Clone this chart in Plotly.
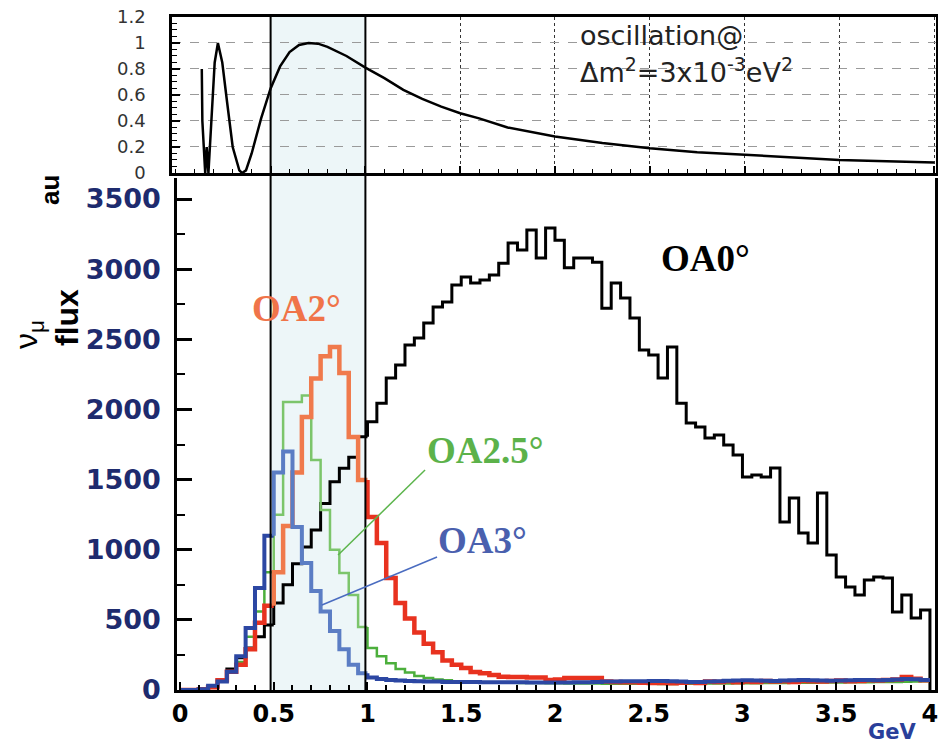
import numpy as np
import plotly.graph_objects as go

# ---------------- data ----------------
bin_width = 0.05
n_bins = 80
energy_edges = np.round(np.arange(n_bins + 1) * bin_width, 3)

flux_oa0 = [0, 0, 5, 20, 70, 150, 230, 300, 380, 463,
            620, 750, 900, 1020, 1140, 1330, 1485, 1580, 1660, 1805,
            1912, 2045, 2224, 2316, 2459, 2509, 2616, 2730, 2766, 2887,
            2944, 2901, 2922, 2958, 3043, 3186, 3136, 3279, 3079, 3293,
            3207, 3010, 3079, 3079, 3050, 2722, 2901, 2794, 2652, 2423,
            2388, 2224, 2445, 2045, 1903, 1875, 1796, 1817, 1746, 1675,
            1518, 1532, 1518, 1582, 1197, 1368, 1119, 1048, 1404, 962,
            805, 734, 677, 784, 805, 798, 556, 677, 513, 570]

flux_oa2 = [0, 0, 5, 20, 70, 130, 180, 290, 480, 600,
            840, 1170, 1550, 1946, 2220, 2380, 2445, 2260, 1803, 1497,
            1233, 1048, 798, 620, 510, 410, 330, 270, 210, 180,
            157, 128, 120, 107, 95, 93, 93, 90, 90, 71,
            75, 86, 86, 86, 86, 60, 57, 55, 55, 52,
            50, 50, 48, 52, 55, 50, 60, 58, 62, 55,
            60, 58, 65, 60, 62, 58, 65, 62, 60, 65,
            68, 62, 65, 70, 68, 72, 75, 93, 80, 70]

flux_oa25 = [0, 0, 5, 25, 70, 130, 200, 380, 560, 840,
             1250, 2053, 2053, 2100, 1640, 1283, 1000, 834, 677, 450,
             300, 240, 190, 150, 125, 100, 85, 75, 70, 62,
             58, 55, 55, 53, 52, 52, 50, 50, 50, 48,
             48, 47, 47, 46, 46, 45, 45, 45, 44, 44,
             44, 43, 43, 45, 45, 46, 46, 47, 47, 48,
             48, 49, 50, 50, 50, 51, 52, 52, 53, 54,
             54, 55, 55, 56, 57, 58, 58, 59, 60, 62]

flux_oa3 = [0, 0, 5, 30, 60, 130, 240, 442, 727, 1100,
            1550, 1700, 1162, 905, 705, 560, 420, 290, 180, 120,
            90, 78, 72, 68, 65, 62, 60, 60, 58, 58,
            57, 57, 56, 56, 55, 55, 55, 54, 54, 54,
            53, 53, 55, 56, 58, 60, 60, 62, 62, 63,
            65, 64, 62, 60, 58, 57, 60, 63, 66, 68,
            70, 68, 66, 65, 68, 70, 72, 70, 68, 66,
            67, 69, 71, 72, 70, 72, 75, 78, 76, 72]

osc_energy = [0.137, 0.140, 0.155, 0.163, 0.172, 0.190, 0.205, 0.222, 0.245, 0.27,
              0.30, 0.335, 0.35, 0.37, 0.40, 0.45, 0.50, 0.55, 0.60, 0.65,
              0.70, 0.75, 0.80, 0.90, 1.00, 1.10, 1.20, 1.30, 1.40, 1.50,
              1.60, 1.75, 2.00, 2.25, 2.50, 2.75, 3.00, 3.25, 3.50, 3.75, 4.00]
osc_prob = [0.80, 0.40, 0.0, 0.20, 0.0, 0.45, 0.85, 1.0, 0.85, 0.55,
            0.20, 0.02, 0.0, 0.02, 0.15, 0.42, 0.65, 0.82, 0.93, 0.985,
            1.0, 0.995, 0.97, 0.90, 0.81, 0.73, 0.64, 0.57, 0.51, 0.46,
            0.42, 0.35, 0.28, 0.23, 0.19, 0.16, 0.14, 0.12, 0.10, 0.09, 0.08]

main_yticks = [0, 500, 1000, 1500, 2000, 2500, 3000, 3500]
main_xticks = [0, 0.5, 1, 1.5, 2, 2.5, 3, 3.5, 4]
main_xlabels = ["0", "0.5", "1", "1.5", "2", "2.5", "3", "3.5", "4"]
top_yticks = [0, 0.2, 0.4, 0.6, 0.8, 1.0, 1.2]
top_ylabels = ["0", "0.2", "0.4", "0.6", "0.8", "1", "1.2"]

band_lo, band_hi = 0.5, 1.0

# ---------------- layout constants ----------------
TOP_X_DOMAIN = [0.1834, 0.9979]
TOP_Y_DOMAIN = [0.7678, 0.9772]
MAIN_X_DOMAIN = [0.1887, 0.9968]
MAIN_Y_DOMAIN = [0.0738, 0.7611]

NAVY = "#1e2b6e"

fig = go.Figure()

band_lo_bin = int(round(band_lo / bin_width))
band_hi_bin = int(round(band_hi / bin_width))


def segment(values, lo, hi, drop_end=False):
    xs, ys = [], []
    if lo > 0:
        xs.append(energy_edges[lo]); ys.append(values[lo - 1])
    for k in range(lo, hi):
        xs.append(energy_edges[k]); ys.append(values[k])
    xs.append(energy_edges[hi]); ys.append(values[hi - 1])
    if drop_end:
        xs.append(energy_edges[hi]); ys.append(0)
    return xs, ys


series = [
    (flux_oa0, "#000000", "#000000", 3.0, True),
    (flux_oa25, "#4caf3c", "#7cc56b", 2.5, False),
    (flux_oa2, "#e8321f", "#f07a4c", 4.5, False),
    (flux_oa3, "#2c47a3", "#5b7dc4", 4.0, False),
]

for vals, col_out, col_in, w, drop in series:
    parts = [(0, band_lo_bin, col_out, False),
             (band_lo_bin, band_hi_bin, col_in, False),
             (band_hi_bin, n_bins, col_out, drop)]
    for lo, hi, col, d in parts:
        xs, ys = segment(vals, lo, hi, d)
        fig.add_trace(go.Scatter(x=xs, y=ys, mode="lines", line_shape="hv",
                                 line=dict(color=col, width=w),
                                 xaxis="x2", yaxis="y2", hoverinfo="skip"))

fig.add_trace(go.Scatter(x=osc_energy, y=osc_prob, mode="lines",
                         line=dict(color="#000000", width=2.5),
                         xaxis="x", yaxis="y", hoverinfo="skip"))

shapes = [
    dict(type="rect", xref="x", yref="paper", x0=band_lo, x1=band_hi,
         y0=MAIN_Y_DOMAIN[0], y1=TOP_Y_DOMAIN[1], fillcolor="#edf6f8",
         line=dict(width=0), layer="below"),
    dict(type="line", xref="x", yref="paper", x0=band_lo, x1=band_lo,
         y0=MAIN_Y_DOMAIN[0], y1=TOP_Y_DOMAIN[1], line=dict(color="black", width=2),
         layer="above"),
    dict(type="line", xref="x", yref="paper", x0=band_hi, x1=band_hi,
         y0=MAIN_Y_DOMAIN[0], y1=TOP_Y_DOMAIN[1], line=dict(color="black", width=2),
         layer="above"),
    dict(type="line", xref="x2", yref="y2", x0=1.307, y0=1568, x1=0.843, y1=962,
         line=dict(color="#5cb54c", width=1.5), layer="above"),
    dict(type="line", xref="x2", yref="y2", x0=1.371, y0=948, x1=0.757, y1=606,
         line=dict(color="#4a6cc0", width=1.5), layer="above"),
]

serif = "Liberation Serif"
annotations = [
    dict(text="OA0°", x=2.805, y=3079, xref="x2", yref="y2", showarrow=False,
         font=dict(family=serif, size=37, color="#000000", weight=700)),
    dict(text="OA2°", x=0.624, y=2723, xref="x2", yref="y2", showarrow=False,
         font=dict(family=serif, size=37, color="#f07449", weight=700)),
    dict(text="OA2.5°", x=1.632, y=1704, xref="x2", yref="y2", showarrow=False,
         font=dict(family=serif, size=37, color="#5cb24a", weight=700)),
    dict(text="OA3°", x=1.616, y=1069, xref="x2", yref="y2", showarrow=False,
         font=dict(family=serif, size=37, color="#4a60ae", weight=700)),
    dict(text="oscillation@", x=2.12, y=1.06, xref="x", yref="y", xanchor="left",
         showarrow=False, font=dict(family="DejaVu Sans", size=27, color="#222222")),
    dict(text="Δm<sup>2</sup>=3x10<sup>-3</sup>eV<sup>2</sup>", x=2.12, y=0.79,
         xref="x", yref="y", xanchor="left", showarrow=False,
         font=dict(family="DejaVu Sans", size=27, color="#222222")),
    dict(text="au", x=50 / 938, y=1 - 190 / 745, xref="paper", yref="paper",
         xanchor="center", yanchor="middle", textangle=-90, showarrow=False,
         font=dict(family="Liberation Sans", size=26, color="#000000", weight=700)),
    dict(text="flux", x=67 / 938, y=1 - 318 / 745, xref="paper", yref="paper",
         xanchor="center", yanchor="middle", textangle=-90, showarrow=False,
         font=dict(family="Liberation Sans", size=32, color="#000000", weight=700)),
    dict(text="ν<sub>μ</sub>", x=28 / 938, y=1 - 335 / 745, xref="paper", yref="paper",
         xanchor="center", yanchor="middle", textangle=-90, showarrow=False,
         font=dict(family="Liberation Sans", size=32, color="#000000")),
    dict(text="GeV", x=917 / 938, y=0.0, xref="paper", yref="paper",
         xanchor="right", yanchor="bottom", showarrow=False, borderpad=0,
         font=dict(family="DejaVu Sans", size=21, color="#2a3f9a", weight=700)),
]

fig.update_layout(
    width=938, height=745,
    margin=dict(l=0, r=0, t=0, b=0, autoexpand=False),
    paper_bgcolor="white", plot_bgcolor="rgba(0,0,0,0)",
    showlegend=False,
    shapes=shapes, annotations=annotations,
    xaxis=dict(domain=TOP_X_DOMAIN, range=[-0.02, 4.01], anchor="y", automargin=False,
               tickvals=main_xticks[1:], showticklabels=False,
               ticks="inside", ticklen=7, tickwidth=1.5, tickcolor="black",
               minor=dict(dtick=0.1, tick0=0, ticks="inside", ticklen=4,
                          tickwidth=1, tickcolor="black", showgrid=False),
               showgrid=True, gridcolor="#333333", griddash="dot", gridwidth=1,
               showline=True, linecolor="black", linewidth=2.5, mirror=True,
               zeroline=False),
    yaxis=dict(domain=TOP_Y_DOMAIN, range=[0, 1.2], anchor="x", automargin=False,
               tickvals=top_yticks, ticktext=top_ylabels,
               ticks="inside", ticklen=8, tickwidth=1.5, tickcolor="black",
               minor=dict(dtick=0.05, tick0=0, ticks="inside", ticklen=5,
                          tickwidth=1, tickcolor="black", showgrid=False),
               showgrid=True, gridcolor="#9a9a9a", griddash="dash", gridwidth=1,
               showline=True, linecolor="black", linewidth=2.5, mirror=True,
               zeroline=False, ticklabelstandoff=20, ticklabeloverflow="allow",
               tickfont=dict(family="DejaVu Sans", size=18, color="#333333")),
    xaxis2=dict(domain=MAIN_X_DOMAIN, range=[-0.016, 4.027], anchor="y2", automargin=False,
                tickvals=main_xticks, ticktext=main_xlabels,
                ticks="inside", ticklen=8, tickwidth=2, tickcolor="black",
                minor=dict(dtick=0.1, tick0=0, ticks="inside", ticklen=5,
                           tickwidth=1.5, tickcolor="black", showgrid=False),
                showgrid=False, showline=True, linecolor="black", linewidth=2.5,
                zeroline=False, ticklabelstandoff=0, ticklabeloverflow="allow",
                tickfont=dict(family="DejaVu Sans", size=24, color="#000000", weight=700)),
    yaxis2=dict(domain=MAIN_Y_DOMAIN, range=[0, 3650], anchor="x2", automargin=False,
                tickvals=main_yticks, ticktext=[str(v) for v in main_yticks],
                ticks="inside", ticklen=15, tickwidth=2.5, tickcolor="black",
                minor=dict(dtick=250, tick0=0, ticks="inside", ticklen=8,
                           tickwidth=2, tickcolor="black", showgrid=False),
                showgrid=False, showline=True, linecolor="black", linewidth=2.5,
                mirror=True, zeroline=False, ticklabelstandoff=8, ticklabeloverflow="allow",
                tickfont=dict(family="DejaVu Sans", size=27, color=NAVY, weight=700)),
)

fig.write_html("out.html", config={"displayModeBar": False},
               post_script="document.body.style.margin='0';document.body.style.padding='0';")
